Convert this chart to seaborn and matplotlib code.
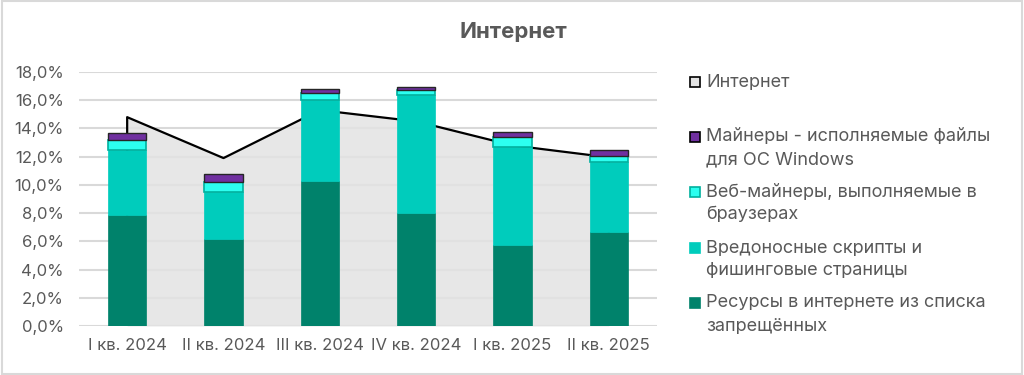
import numpy as np
import pandas as pd
import matplotlib
matplotlib.use("Agg")
import matplotlib.pyplot as plt
from matplotlib.patches import Rectangle
from matplotlib.ticker import FuncFormatter
import seaborn as sns

# Data (percent)
quarters = ["I кв. 2024", "II кв. 2024", "III кв. 2024", "IV кв. 2024", "I кв. 2025", "II кв. 2025"]
internet = [14.8, 11.9, 15.3, 14.5, 12.8, 11.95]
resources = [7.9, 6.2, 10.3, 8.0, 5.75, 6.65]
scripts = [4.55, 3.3, 5.7, 8.35, 6.9, 4.95]
web_miners = [0.7, 0.7, 0.5, 0.4, 0.75, 0.45]
win_miners = [0.55, 0.6, 0.3, 0.2, 0.35, 0.4]

labels = {
    "internet": "Интернет",
    "win": "Майнеры - исполняемые файлы\nдля ОС Windows",
    "web": "Веб-майнеры, выполняемые в\nбраузерах",
    "scripts": "Вредоносные скрипты и\nфишинговые страницы",
    "res": "Ресурсы в интернете из списка\nзапрещённых",
}

C_DARK = "#00826B"
C_TEAL = "#00CCBC"
C_CYAN = "#2CFFF0"
C_PURPLE = "#7030A0"
C_AREA = "#E3E3E3"
C_TEXT = "#595959"
C_GRID = "#D9D9D9"

sns.set_theme(style="white")
plt.rcParams["font.family"] = ["Inter", "DejaVu Sans"]

df = pd.DataFrame({
    "q": quarters,
    "internet": internet,
    "res": resources,
    "scripts": scripts,
    "web": web_miners,
    "win": win_miners,
})
df["b1"] = df["res"]
df["b2"] = df["b1"] + df["scripts"]
df["b3"] = df["b2"] + df["web"]

fig = plt.figure(figsize=(10.24, 3.75), dpi=100)
ax = fig.add_axes([79 / 1024, 1 - 326 / 375, (657 - 79) / 1024, (326 - 72) / 375])

x = np.arange(len(quarters))

# area series "Интернет"
ax.fill_between(x, 0, df["internet"], color=C_AREA, alpha=0.85, lw=0, zorder=1)
ax.plot(np.r_[x[0], x, x[-1]], np.r_[0, df["internet"], 0], color="black", lw=1.6, zorder=1.5)

# stacked bars
w = 0.40
sns.barplot(data=df, x="q", y="res", color=C_DARK, width=w, ax=ax, zorder=3,
            saturation=1, edgecolor=C_DARK, linewidth=0.5)
sns.barplot(data=df, x="q", y="scripts", bottom=df["b1"], color=C_TEAL, width=w, ax=ax, zorder=3,
            saturation=1, edgecolor=C_TEAL, linewidth=0.5)
sns.barplot(data=df, x="q", y="web", bottom=df["b2"], color=C_CYAN, width=w, ax=ax, zorder=3,
            saturation=1, edgecolor="#00B09E", linewidth=1.2)
sns.barplot(data=df, x="q", y="win", bottom=df["b3"], color=C_PURPLE, width=w, ax=ax, zorder=3,
            saturation=1, edgecolor="#262626", linewidth=1.0)

ax.set_xlim(-0.5, len(quarters) - 0.5)
ax.set_ylim(0, 18)
ax.set_yticks(np.arange(0, 18.1, 2))
ax.yaxis.set_major_formatter(FuncFormatter(lambda v, p: f"{v:.1f}%".replace(".", ",")))
ax.grid(axis="y", color=C_GRID, lw=1.5, zorder=0)
ax.set_axisbelow(True)
for s in ax.spines.values():
    s.set_visible(False)
ax.set_xlabel("")
ax.set_ylabel("")
ax.tick_params(axis="both", length=0, labelsize=12, colors=C_TEXT)
ax.tick_params(axis="y", pad=11)
ax.tick_params(axis="x", pad=9)

fig.text(513 / 1024, 1 - 32 / 375, "Интернет", ha="center", va="center",
         fontsize=16, fontweight="bold", color=C_TEXT)

# legend drawn by hand to match two-line entries
leg = [
    ("internet", C_AREA, "black", 82),
    ("win", C_PURPLE, "black", 137),
    ("web", C_CYAN, "#00B09E", 192),
    ("scripts", C_TEAL, C_TEAL, 248),
    ("res", C_DARK, C_DARK, 303),
]
for key, fc, ec, ypix in leg:
    fig.patches.append(Rectangle(((690) / 1024, 1 - (ypix + 5) / 375), 10 / 1024, 10 / 375,
                                 transform=fig.transFigure, facecolor=fc, edgecolor=ec, lw=1.2))
    for i, line in enumerate(labels[key].split("\n")):
        fig.text(706 / 1024, 1 - (ypix + 23 * i) / 375, line, ha="left", va="center",
                 fontsize=13, color=C_TEXT)

fig.patches.append(Rectangle((0.002, 0.003), 0.996, 0.994, transform=fig.transFigure,
                             fill=False, edgecolor=C_GRID, lw=1.5))

fig.savefig("out.png", dpi=100)
